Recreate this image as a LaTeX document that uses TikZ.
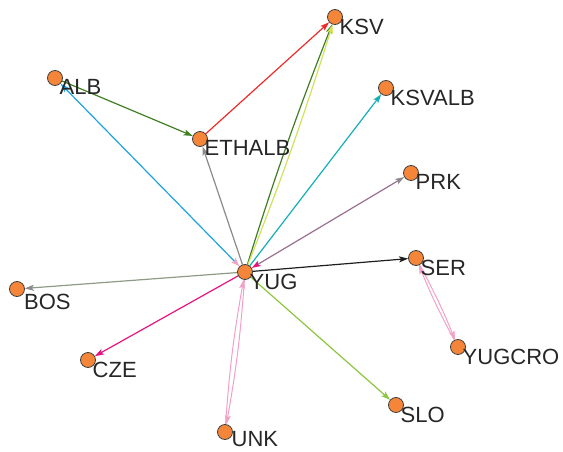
\documentclass[tikz,border=0pt]{standalone}
\usepackage{fontspec}
\setmainfont{Liberation Sans}
\usetikzlibrary{arrows.meta,backgrounds}

\definecolor{nodeorange}{HTML}{F58538}
\definecolor{cdkgreen}{HTML}{3F7F23}
\definecolor{cred}{HTML}{EE2B2B}
\definecolor{cgray}{HTML}{8A8A8A}
\definecolor{cblue}{HTML}{1FA3E0}
\definecolor{cpink}{HTML}{F4A0C6}
\definecolor{cmagenta}{HTML}{E5147F}
\definecolor{cmauve}{HTML}{9A6F8F}
\definecolor{cteal}{HTML}{16AEB6}
\definecolor{cyellowgreen}{HTML}{D2E05E}
\definecolor{clightgreen}{HTML}{8CC63F}
\definecolor{cgraygreen}{HTML}{8D9B86}
\definecolor{cblack}{HTML}{1E1E1E}

\tikzset{
  hd/.tip={Stealth[length=9pt,width=6pt,inset=2pt]},
  vertex/.style={circle, draw=black!75, fill=nodeorange, minimum size=15pt,
    inner sep=0pt, line width=0.8pt},
  lbl/.style={anchor=north west, inner sep=0pt, xshift=4.5pt, yshift=-1.5pt,
    font=\fontsize{22}{26}\selectfont, text=black!85},
  edge/.style={line width=1.2pt, -hd},
  pinkedge/.style={line width=1pt, cpink, -hd},
}

\begin{document}
\begin{tikzpicture}[x=1pt,y=-1pt]
\useasboundingbox (0,0) rectangle (563,452);

% vertices
\node[vertex] (KSV)    at (335,17)  {};
\node[vertex] (ALB)    at (55,78)   {};
\node[vertex] (ETHALB) at (200,139) {};
\node[vertex] (KSVALB) at (386,88)  {};
\node[vertex] (PRK)    at (411,173) {};
\node[vertex] (YUG)    at (245,272) {};
\node[vertex] (SER)    at (416,258) {};
\node[vertex] (BOS)    at (17,289)  {};
\node[vertex] (YUGCRO) at (458,347) {};
\node[vertex] (CZE)    at (88,360)  {};
\node[vertex] (SLO)    at (396,405) {};
\node[vertex] (UNK)    at (225,432) {};

% labels, set just below and right of each vertex centre
\node[lbl] (KSV-l)    at (KSV.center)    {KSV};
\node[lbl] (ALB-l)    at (ALB.center)    {ALB};
\node[lbl] (ETHALB-l) at (ETHALB.center) {ETHALB};
\node[lbl] (KSVALB-l) at (KSVALB.center) {KSVALB};
\node[lbl] (PRK-l)    at (PRK.center)    {PRK};
\node[lbl] (YUG-l)    at (YUG.center)    {YUG};
\node[lbl] (SER-l)    at (SER.center)    {SER};
\node[lbl, xshift=2.5pt, yshift=-3pt] (BOS-l) at (BOS.center) {BOS};
\node[lbl] (YUGCRO-l) at (YUGCRO.center) {YUGCRO};
\node[lbl] (CZE-l)    at (CZE.center)    {CZE};
\node[lbl] (SLO-l)    at (SLO.center)    {SLO};
\node[lbl, xshift=2pt, yshift=2.5pt] (UNK-l) at (UNK.center) {UNK};

% directed ties, kept under the vertices
\begin{scope}[on background layer]
  \draw[edge, cdkgreen] (ALB) -- (ETHALB);
  \draw[edge, cred] (ETHALB) -- (KSV);
  \draw[edge, cgray] (YUG) -- (ETHALB);
  \draw[edge, cblue, {hd[color=cpink]}-hd] (YUG) -- (ALB);
  \draw[edge, cdkgreen] (YUG) to[bend left=2] (KSV);
  \draw[edge, cyellowgreen] (YUG) to[bend right=2] (KSV);
  \draw[edge, cteal] (YUG) -- (KSVALB);
  \draw[edge, cmauve, {hd[color=cmagenta]}-{hd[color=cgray]}] (YUG) -- (PRK);
  \draw[edge, cblack] (YUG) -- (SER);
  \draw[edge, cgraygreen, -{hd[color=cgray]}] (YUG) -- (BOS);
  \draw[edge, cmagenta] (YUG) -- (CZE);
  \draw[edge, clightgreen] (YUG) -- (SLO);
  \draw[pinkedge] (YUG) to[bend left=3] (UNK);
  \draw[pinkedge] (UNK) to[bend left=3] (YUG);
  \draw[pinkedge] (SER) to[bend left=3] (YUGCRO);
  \draw[pinkedge] (YUGCRO) to[bend left=3] (SER);
\end{scope}
\end{tikzpicture}
\end{document}
